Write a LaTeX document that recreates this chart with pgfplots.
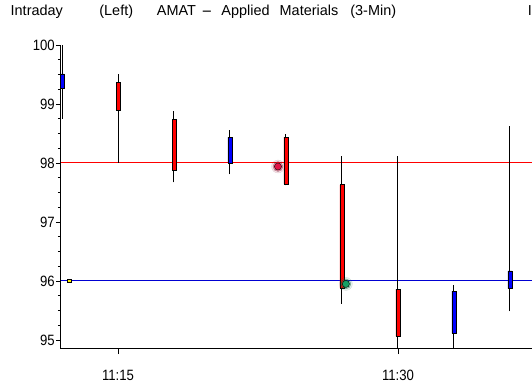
\documentclass[border=0pt]{standalone}
\usepackage{pgfplots}
\pgfplotsset{compat=1.18}
\usepackage{pgfplotstable}
\usepackage{graphicx}
\usepackage{fontspec}
\setmainfont{Liberation Sans}
\newfontfamily\tickfont[FakeStretch=0.88]{Liberation Sans}
\definecolor{dotred}{RGB}{225,20,70}
\definecolor{dotgreen}{RGB}{20,160,100}
\definecolor{lineblue}{RGB}{0,0,210}

\pgfplotstableread{
t open high low close
12 99.27 100.0 98.75 99.51
15 99.37 99.51 98.00 98.89
18 98.74 98.88 97.67 97.88
21 98.00 98.56 97.81 98.44
24 98.44 98.49 97.62 97.64
27 97.63 98.12 95.61 95.88
30 95.86 98.12 94.70 95.06
33 95.11 95.93 94.70 95.83
36 95.87 98.63 95.49 96.17
}\ohlc

\pgfplotsset{
  common/.style={
    scale only axis, width=471bp, height=304bp,
    xmin=11.946, xmax=37.18, ymin=94.847, ymax=100,
    at={(0,0)}, anchor=south west, clip=true,
  },
}

\begin{document}
\begin{tikzpicture}
\path[use as bounding box] (-61bp,-36bp) rectangle (471bp,349bp);

% titles
\tikzset{ttl/.style={anchor=base west, inner sep=0pt, font=\fontsize{14.5}{15}\selectfont}}
\node[ttl] at (-50.5bp,333.3bp) {Intraday};
\node[ttl] at (38.2bp,333.3bp) {(Left)};
\node[ttl] at (95.7bp,333.3bp) {AMAT};
\node[ttl] at (140.2bp,333.3bp) {\scalebox{2.3}[1]{-}};
\node[ttl] at (160.2bp,333.3bp) {Applied};
\node[ttl] at (218.5bp,333.3bp) {Materials};
\node[ttl] at (289.2bp,333.3bp) {(3-Min)};
\node[ttl] at (466.6bp,333.3bp) {I};

% axis with lines and wicks
\begin{axis}[common,
  axis x line*=bottom, axis y line*=left,
  axis line style={-, black, line width=1bp},
  x axis line style={-}, y axis line style={-},
  ytick={95,96,97,98,99,100},
  minor y tick num=3,
  xtick={15,30}, xticklabels={11:15,11:30},
  tick align=outside,
  major tick length=5bp, minor tick length=3bp,
  tick style={black, line width=0.9bp},
  /pgf/number format/assume math mode=true,
  yticklabel style={anchor=east, inner sep=0pt, xshift=-1bp, font=\tickfont\fontsize{15}{15}\selectfont},
  xticklabel style={anchor=north, inner sep=0pt, yshift=-16bp, font=\tickfont\fontsize{15}{15}\selectfont},
]
\addplot[red, line width=1bp] coordinates {(11.946,98) (37.18,98)};
\addplot[lineblue, line width=1bp] coordinates {(11.946,96) (37.18,96)};
\addplot[black, only marks, mark size=0pt, mark options={draw=none, fill=none},
  error bars/.cd, y dir=plus, y explicit, error mark=none,
  error bar style={draw=black, line width=1bp}]
  table[x=t, y=low, y error expr={\thisrow{high}-\thisrow{low}}] \ohlc;
\end{axis}

% candle bodies
\begin{axis}[common, hide axis, ybar stacked, bar width=4bp]
\addplot[draw=none, fill=none] table[x=t, y expr={min(\thisrow{open},\thisrow{close})}] \ohlc;
\addplot[fill=red, draw=black, line width=0.8bp] table[x=t, y expr={(\thisrow{open}>\thisrow{close})*(\thisrow{open}-\thisrow{close})}] \ohlc;
\addplot[fill=blue, draw=black, line width=0.8bp] table[x=t, y expr={(\thisrow{close}>\thisrow{open})*(\thisrow{close}-\thisrow{open})}] \ohlc;
\end{axis}

% markers
\begin{axis}[common, hide axis]
\addplot[only marks, mark=*, mark size=6.5bp, mark options={draw=none, fill=dotred, opacity=0.12}] coordinates {(23.57,97.94)};
\addplot[only marks, mark=*, mark size=5bp, mark options={draw=none, fill=dotred, opacity=0.35}] coordinates {(23.57,97.94)};
\addplot[only marks, mark=*, mark size=3.6bp, mark options={draw=none, fill=dotred}] coordinates {(23.57,97.94)};
\addplot[only marks, mark=*, mark size=6.5bp, mark options={draw=none, fill=dotgreen, opacity=0.12}] coordinates {(27.21,95.95)};
\addplot[only marks, mark=*, mark size=5bp, mark options={draw=none, fill=dotgreen, opacity=0.35}] coordinates {(27.21,95.95)};
\addplot[only marks, mark=*, mark size=3.6bp, mark options={draw=none, fill=dotgreen}] coordinates {(27.21,95.95)};
\addplot[only marks, mark=square*, mark size=1.8bp, mark options={draw=black, fill=yellow, line width=0.6bp, yscale=0.7}] coordinates {(12.375,96.0)};
\end{axis}
\end{tikzpicture}
\end{document}
